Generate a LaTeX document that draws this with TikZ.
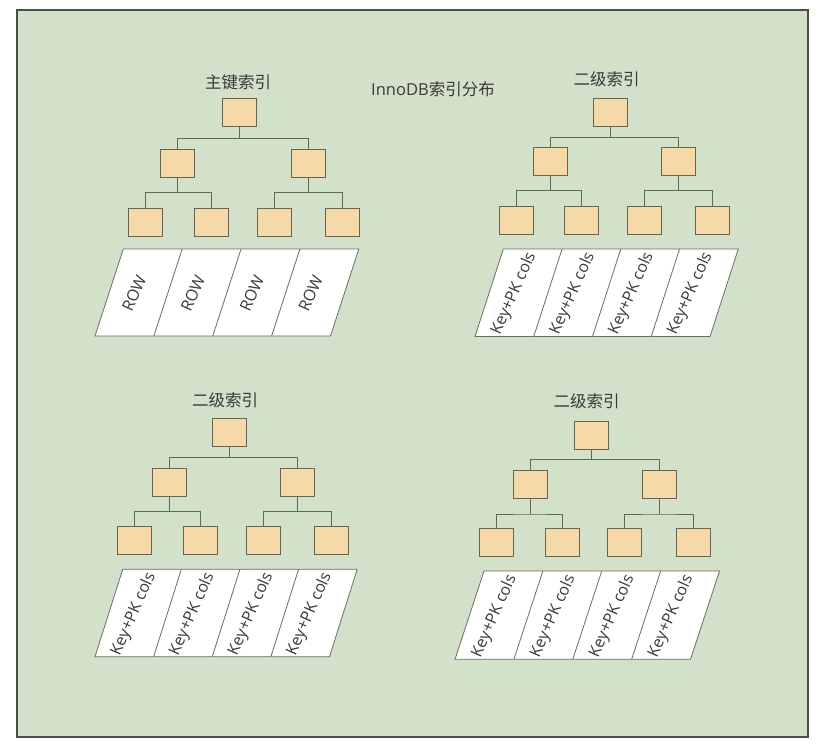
\documentclass[tikz,border=0pt]{standalone}
\usepackage{fontspec}
\setmainfont{Open Sans}
\newfontfamily\cjk{Noto Sans CJK SC}
\definecolor{bggreen}{RGB}{211,224,202}
\definecolor{frameline}{RGB}{72,80,70}
\definecolor{boxfill}{RGB}{246,217,168}
\definecolor{boxline}{RGB}{105,100,80}
\definecolor{connc}{RGB}{92,108,86}
\definecolor{cellline}{RGB}{105,110,100}
\definecolor{txt}{RGB}{58,58,58}
\newcommand\rowblock[7]{%
  \draw[cell] (#4,#2) -- ({#4+#6},#2) -- ({#5+#6},#3) -- (#5,#3) -- cycle;
  \foreach \k in {1,2,3} \draw[cell] ({#4+\k*#6/4},#2) -- ({#5+\k*#6/4},#3);
  \foreach \k in {0,1,2,3}
    \node[lbl] (#1t\k) at ({(#4+#5)/2+(\k+0.5)*#6/4-4.5},{(#2+#3)/2+1}) {#7};
}
\begin{document}
\begin{tikzpicture}[x=1pt,y=-1pt,
  box/.style={draw=boxline, fill=boxfill, minimum width=34pt, minimum height=28pt, inner sep=0pt, line width=0.9pt},
  conn/.style={draw=connc, line width=1pt},
  cell/.style={draw=cellline, fill=white, line width=0.8pt},
  lbl/.style={font=\fontsize{16}{18}\selectfont, rotate=66, text=txt, inner sep=0pt},
  ttl/.style={font=\cjk\fontsize{16.5}{18}\selectfont, text=txt, inner sep=0pt}]
\useasboundingbox (0,0) rectangle (835,746);
\fill[white] (0,0) rectangle (835,746);
\draw[fill=bggreen, draw=frameline, line width=1.3pt] (17,10) rectangle (808,737);

\node[font=\fontsize{16.5}{18}\selectfont, text=txt, inner sep=0pt] (main) at (433,89) {InnoDB{\cjk 索引分布}};

% ---- tree 1 (top left)
\node[ttl] (t1ttl) at (238,82) {主键索引};
\node[box] (t1r) at (239.5,112.8) {};
\node[box] (t1a) at (177,163.3) {};
\node[box] (t1b) at (308,163.3) {};
\node[box] (t1c) at (145.7,222) {};
\node[box] (t1d) at (211.3,222) {};
\node[box] (t1e) at (274,222) {};
\node[box] (t1f) at (342,222) {};
\coordinate (t1j0) at (239.5,138.3);
\coordinate (t1j1) at (177,192.7);
\coordinate (t1j2) at (308,192.7);
\draw[conn] (t1r) -- (t1j0);
\draw[conn] (t1a) |- (t1j0) -| (t1b);
\draw[conn] (t1a) -- (t1j1);
\draw[conn] (t1c) |- (t1j1) -| (t1d);
\draw[conn] (t1b) -- (t1j2);
\draw[conn] (t1e) |- (t1j2) -| (t1f);
\rowblock{p1}{249}{336}{123.3}{95}{235.5}{ROW}

% ---- tree 2 (top right)
\node[ttl] (t2ttl) at (606.7,79.3) {二级索引};
\node[box] (t2r) at (610.3,112.2) {};
\node[box] (t2a) at (550.3,161.5) {};
\node[box] (t2b) at (678.3,161.5) {};
\node[box] (t2c) at (516.2,220.2) {};
\node[box] (t2d) at (581.3,220.2) {};
\node[box] (t2e) at (644.5,220.2) {};
\node[box] (t2f) at (712.8,220.2) {};
\coordinate (t2j0) at (610.3,137.3);
\coordinate (t2j1) at (550.3,190.7);
\coordinate (t2j2) at (678.3,190.7);
\draw[conn] (t2r) -- (t2j0);
\draw[conn] (t2a) |- (t2j0) -| (t2b);
\draw[conn] (t2a) -- (t2j1);
\draw[conn] (t2c) |- (t2j1) -| (t2d);
\draw[conn] (t2b) -- (t2j2);
\draw[conn] (t2e) |- (t2j2) -| (t2f);
\rowblock{p2}{249}{336.5}{503.3}{475}{235}{Key+PK cols}

% ---- tree 3 (bottom left)
\node[ttl] (t3ttl) at (225,400) {二级索引};
\node[box] (t3r) at (229.2,432.5) {};
\node[box] (t3a) at (169.2,482.5) {};
\node[box] (t3b) at (297.2,482.5) {};
\node[box] (t3c) at (134.8,540.5) {};
\node[box] (t3d) at (200.5,540.5) {};
\node[box] (t3e) at (263.3,540.5) {};
\node[box] (t3f) at (331.2,540.5) {};
\coordinate (t3j0) at (229.2,457.7);
\coordinate (t3j1) at (169.2,511.7);
\coordinate (t3j2) at (297.2,511.7);
\draw[conn] (t3r) -- (t3j0);
\draw[conn] (t3a) |- (t3j0) -| (t3b);
\draw[conn] (t3a) -- (t3j1);
\draw[conn] (t3c) |- (t3j1) -| (t3d);
\draw[conn] (t3b) -- (t3j2);
\draw[conn] (t3e) |- (t3j2) -| (t3f);
\rowblock{p3}{569.3}{656.7}{122.7}{95}{234.5}{Key+PK cols}

% ---- tree 4 (bottom right)
\node[ttl] (t4ttl) at (586.7,401.7) {二级索引};
\node[box] (t4r) at (591.2,435) {};
\node[box] (t4a) at (530.8,484.2) {};
\node[box] (t4b) at (659.5,484.2) {};
\node[box] (t4c) at (496.7,542.8) {};
\node[box] (t4d) at (562.8,542.8) {};
\node[box] (t4e) at (624.8,542.8) {};
\node[box] (t4f) at (693.3,542.8) {};
\coordinate (t4j0) at (591.2,459.3);
\coordinate (t4j1) at (530.8,514);
\coordinate (t4j2) at (659.5,514);
\draw[conn] (t4r) -- (t4j0);
\draw[conn] (t4a) |- (t4j0) -| (t4b);
\draw[conn] (t4a) -- (t4j1);
\draw[conn] (t4c) |- (t4j1) -| (t4d);
\draw[conn] (t4b) -- (t4j2);
\draw[conn] (t4e) |- (t4j2) -| (t4f);
\rowblock{p4}{571}{659.3}{484}{455}{235.5}{Key+PK cols}
\end{tikzpicture}
\end{document}
